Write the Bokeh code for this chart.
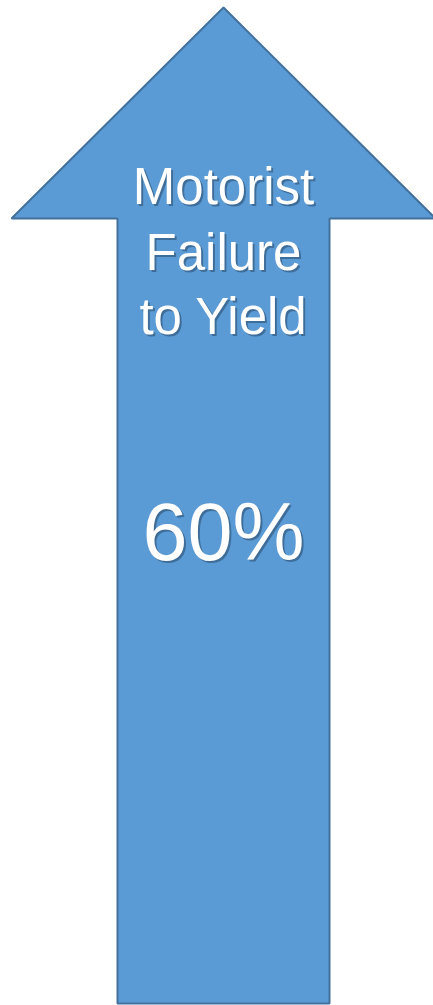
from bokeh.plotting import figure
from bokeh.models import Range1d
from bokeh.embed import file_html
from bokeh.resources import INLINE
from bokeh.core.properties import value

# --- data ---
label_lines = ["Motorist", "Failure", "to Yield"]
share_pct = [60]

# --- geometry (picture pixel space) ---
W, H = 433, 1005
cx = 223
tip_y = 7
head_base_y = 218
head_half = 212
shaft_half = 106
bottom_y = 1003

arrow_x = [cx, cx + head_half, cx + shaft_half, cx + shaft_half,
           cx - shaft_half, cx - shaft_half, cx - head_half]
arrow_y = [tip_y, head_base_y, head_base_y, bottom_y,
           bottom_y, head_base_y, head_base_y]

p = figure(width=W, height=H, output_backend="svg", toolbar_location=None,
           x_range=Range1d(0, W), y_range=Range1d(H, 0),
           x_axis_location=None, y_axis_location=None, min_border=0)
p.grid.visible = False
p.outline_line_color = None
p.background_fill_color = "white"
p.border_fill_color = "white"

p.patch(arrow_x, arrow_y, fill_color="#5B9BD5", line_color="#41719C", line_width=2)

font = value("Liberation Sans")
label_size = 51
pct_size = 81
line_baselines = [207, 273, 337]
pct_baseline = 565
shift = 0.41  # renderer places alphabetic baseline lower by ~0.41 em
shadow = "#1a3550"
for txt, by in zip(label_lines, line_baselines):
    y = by - shift * label_size
    p.text([cx + 2], [y + 2], text=[txt], text_font=font, text_font_size=f"{label_size}px",
           text_align="center", text_baseline="alphabetic", text_color=shadow, text_alpha=0.45)
    p.text([cx], [y], text=[txt], text_font=font, text_font_size=f"{label_size}px",
           text_align="center", text_baseline="alphabetic", text_color="white")

pct_text = [f"{v}%" for v in share_pct]
y = pct_baseline - shift * pct_size
p.text([cx + 2], [y + 2], text=pct_text, text_font=font, text_font_size=f"{pct_size}px",
       text_align="center", text_baseline="alphabetic", text_color=shadow, text_alpha=0.45)
p.text([cx], [y], text=pct_text, text_font=font, text_font_size=f"{pct_size}px",
       text_align="center", text_baseline="alphabetic", text_color="white")

open("out.html", "w").write(file_html(p, INLINE))
